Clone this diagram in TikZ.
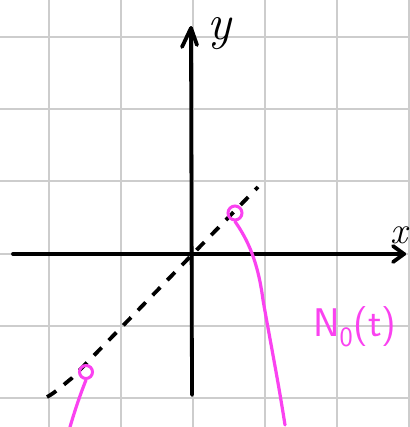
\documentclass[tikz,border=0pt]{standalone}
\usepackage{fontspec}
\definecolor{pinkpen}{RGB}{250,66,240}
\definecolor{gridgray}{RGB}{205,205,205}
\begin{document}
\begin{tikzpicture}[x=1pt,y=-1pt,
  gridline/.style={gridgray,line width=1.6pt},
  axisline/.style={black,line width=3.8pt,line cap=round,line join=round},
  pinkline/.style={pinkpen,line width=3.2pt,line cap=round},
  dashline/.style={black,line width=3.8pt,dash pattern=on 11pt off 10pt},
  lbl/.style={inner sep=0pt}]
\useasboundingbox (0,0) rectangle (409,427);
\fill[white] (0,0) rectangle (409,427);
% grid
\foreach \gx in {49,121,193,265,337,409} \draw[gridline] (\gx,0) -- (\gx,427);
\foreach \gy in {37,109,181,254,326,398} \draw[gridline] (0,\gy) -- (409,\gy);
% axes
\coordinate (xs) at (13,254);
\coordinate (xe) at (404,254);
\coordinate (ys) at (192,395);
\coordinate (ye) at (191,28);
\draw[axisline] (xs) -- (xe);
\draw[axisline] (393,246) -- (xe) -- (393,262);
\draw[axisline] (ys) -- (ye);
\draw[axisline] (182,47) -- (ye) -- (197,45);
% dashed line y = x
\coordinate (ds) at (47,397);
\coordinate (de) at (258,187);
\draw[dashline] (ds) .. controls (56,392) and (62,386) .. (72,378) -- (de);
% pink open circles
\node[draw=pinkpen,line width=3pt,circle,minimum size=14pt,inner sep=0pt] (c1) at (235,213) {};
\node[draw=pinkpen,line width=3pt,circle,minimum size=13pt,inner sep=0pt] (c2) at (86,372) {};
% pink curves
\draw[pinkline] (c1.south) .. controls (248,240) and (258,262) .. (263,300)
  .. controls (270,340) and (278,380) .. (285,425);
\draw[pinkline] (c2.south) .. controls (80,395) and (75,410) .. (70,427);
% labels
\node[lbl,anchor=base] (ylab) at (219,40) {\fontsize{50}{50}\selectfont\itshape y};
\node[lbl,anchor=base east] (xlab) at (408,243) {\fontsize{38}{38}\selectfont\itshape x};
\node[lbl,text=pinkpen,anchor=west] (nlab) at (313,327) {\fontsize{40}{40}\selectfont\sffamily N\textsubscript{0}(t)};
\end{tikzpicture}
\end{document}
